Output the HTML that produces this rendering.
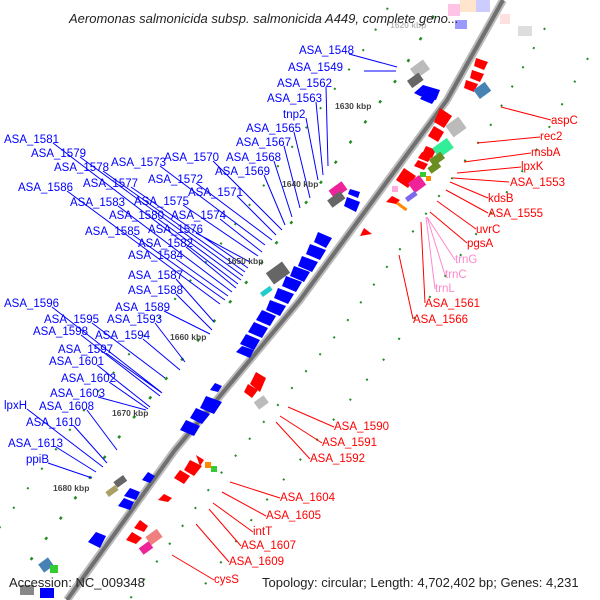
<!DOCTYPE html>
<html><head><meta charset="utf-8"><style>
html,body{margin:0;padding:0;background:#fff;width:600px;height:600px;overflow:hidden;}
svg{display:block;font-family:"Liberation Sans","DejaVu Sans",sans-serif;}
.b{fill:#0000ff;font-size:11.5px}
.r{fill:#ff0000;font-size:11.5px}
.p{fill:#ff88cc;font-size:11.5px}
.k{fill:#444;font-size:8.5px;font-weight:bold}
</style></head><body>
<svg width="600" height="600" viewBox="0 0 600 600" xmlns="http://www.w3.org/2000/svg">
<rect width="600" height="600" fill="#fff"/>
<g fill="none" stroke="#228b22" stroke-width="2.5">
<polyline points="503,0 447,100 300,300 175,450 67,600" transform="translate(-45,-28)" stroke-dasharray="3 22"/>
<polyline points="503,0 447,100 300,300 175,450 67,600" transform="translate(-80,-55)" stroke-dasharray="2 22" stroke-width="2"/>
<polyline points="503,0 447,100 300,300 175,450 67,600" transform="translate(42,28)" stroke-dasharray="2 20" stroke-width="2"/>
<polyline points="503,0 447,100 300,300 175,450 67,600" transform="translate(85,58)" stroke-dasharray="2 24" stroke-width="2"/>
</g>
<polyline points="503,0 447,100 300,300 175,450 67,600" fill="none" stroke="#bbb" stroke-width="8"/>
<polyline points="503,0 447,100 300,300 175,450 67,600" fill="none" stroke="#707070" stroke-width="4"/>
<g stroke="#0000ff" stroke-width="1" fill="none">
<path d="M349,54 L397,67 M364,71 L396,71 M326,87 L328,166 M316,102 L323,175 M306,118 L318,180 M294,132 L310,198 M284,146 L300,208 M274,161 L292,217 M264,175 L285,225"/>
<path d="M213,161 L282,230 M237,196 L276,235 M196,183 L272,240 M160,166 L265,245 M220,219 L262,252 M183,205 L258,256 M196,233 L250,262 M131,187 L248,268 M103,171 L245,272 M80,157 L243,276 M158,219 L241,280 M53,143 L238,284 M186,247 L236,288 M118,206 L232,292 M176,259 L228,296 M133,235 L225,300 M67,191 L220,304"/>
<path d="M176,279 L214,322 M176,294 L212,330 M164,311 L210,334 M155,323 L185,362 M143,339 L180,370 M92,323 L165,378 M52,307 L161,392 M106,353 L162,393 M81,335 L160,396 M97,365 L150,407 M109,382 L148,409 M98,397 L146,410 M87,410 L117,450 M27,409 L103,467 M74,426 L107,463 M56,447 L96,472 M48,463 L92,478"/>
</g>
<g stroke="#ff0000" stroke-width="1" fill="none">
<path d="M551,120 L501,107 M540,137 L477,143 M531,153 L464,162 M521,167 L457,173 M509,182 L453,178 M488,198 L450,182 M488,213 L446,190 M476,229 L437,201 M467,243 L430,212 M425,303 L421,222 M413,319 L399,255"/>
<path d="M334,427 L288,407 M322,443 L280,416 M310,459 L276,422 M280,498 L230,482 M266,516 L222,492 M253,532 L213,503 M241,546 L209,509 M229,562 L196,524 M214,580 L172,555"/>
</g>
<g stroke="#ff88cc" stroke-width="1" fill="none">
<path d="M455,260 L427,217 M445,275 L427,217 M435,289 L426,217"/>
</g>
<g fill="#0000ff">
<polygon points="423,85 440,90 436,100 420,96 414,93"/>
<polygon points="424,93 436,98 432,104 420,99"/>
<polygon points="347,197 360,202 356,212 344,206"/>
<polygon points="350,189 360,192 358,198 348,194"/>
<polygon points="318,232 332,238 326,248 314,242"/>
<polygon points="310,244 326,250 320,260 306,254"/>
<polygon points="302,256 318,262 312,272 298,266"/>
<polygon points="294,266 310,272 304,282 290,276"/>
<polygon points="286,276 302,282 296,292 282,286"/>
<polygon points="278,288 294,294 288,304 274,298"/>
<polygon points="270,300 286,306 280,316 266,310"/>
<polygon points="262,310 276,316 270,326 256,320"/>
<polygon points="254,322 268,328 262,338 248,332"/>
<polygon points="246,334 260,340 254,350 240,344"/>
<polygon points="242,346 254,350 250,358 236,352"/>
<polygon points="215,383 222,386 218,392 210,390"/>
<polygon points="206,396 222,402 214,414 200,408"/>
<polygon points="196,408 210,414 202,424 190,418"/>
<polygon points="186,420 200,426 194,436 180,430"/>
<polygon points="148,472 155,476 150,483 142,480"/>
<polygon points="130,488 140,492 136,500 124,496"/>
<polygon points="124,498 134,502 130,510 118,506"/>
<polygon points="96,532 106,536 100,548 88,542"/>
</g>
<rect x="412" y="63" width="16" height="12" fill="#bbb" transform="rotate(-36 420 69)"/>
<rect x="408" y="76" width="14" height="9" fill="#666" transform="rotate(-36 415 80)"/>
<rect x="330" y="185" width="16" height="10" fill="#ee2299" transform="rotate(-36 338 190)"/>
<rect x="328" y="195" width="16" height="9" fill="#666" transform="rotate(-36 336 199)"/>
<rect x="268" y="266" width="20" height="14" fill="#666" transform="rotate(-36 278 273)"/>
<rect x="260" y="289" width="12" height="5" fill="#22cccc" transform="rotate(-36 266 291)"/>
<rect x="114" y="478" width="12" height="7" fill="#666" transform="rotate(-36 120 481)"/>
<rect x="106" y="488" width="12" height="6" fill="#aaa066" transform="rotate(-36 112 491)"/>
<rect x="40" y="560" width="12" height="10" fill="#4682b4" transform="rotate(-36 46 565)"/>
<rect x="50" y="565" width="8" height="8" fill="#33cc33"/>
<rect x="20" y="585" width="14" height="10" fill="#888"/>
<rect x="40" y="588" width="14" height="10" fill="#0000ff"/>
<g fill="#ff0000">
<polygon points="476,58 488,62 484,70 474,66"/>
<polygon points="472,70 484,74 480,82 470,78"/>
<polygon points="466,80 478,84 474,92 464,88"/>
<polygon points="440,108 452,116 444,128 434,122"/>
<polygon points="434,126 444,132 438,142 428,136"/>
<polygon points="426,146 436,150 432,158 422,154"/>
<polygon points="422,152 432,156 428,162 418,158"/>
<polygon points="418,160 428,164 424,170 414,166"/>
<polygon points="404,168 416,176 408,188 396,180"/>
<polygon points="392,196 400,200 396,204 386,202"/>
<polygon points="364,228 372,234 360,236"/>
<polygon points="256,372 266,378 260,392 250,384"/>
<polygon points="248,384 258,390 252,398 244,392"/>
<polygon points="196,455 204,460 200,466"/>
<polygon points="190,460 202,466 194,476 184,470"/>
<polygon points="180,470 190,476 184,484 174,478"/>
<polygon points="164,494 172,498 168,502 158,500"/>
<polygon points="140,520 148,526 144,532 134,528"/>
<polygon points="132,532 142,538 136,544 126,540"/>
</g>
<rect x="475" y="85" width="14" height="11" fill="#4682b4" transform="rotate(-36 482 90)"/>
<rect x="448" y="120" width="16" height="14" fill="#bbb" transform="rotate(-36 456 127)"/>
<rect x="434" y="142" width="18" height="12" fill="#33ee99" transform="rotate(-36 443 148)"/>
<rect x="430" y="155" width="14" height="8" fill="#6b8e23" transform="rotate(-36 437 159)"/>
<rect x="428" y="164" width="12" height="7" fill="#6b8e23" transform="rotate(-36 434 167)"/>
<rect x="420" y="172" width="6" height="5" fill="#33cc33"/>
<rect x="426" y="176" width="5" height="5" fill="#ff8800"/>
<rect x="410" y="178" width="14" height="12" fill="#ee2299" transform="rotate(-36 417 184)"/>
<rect x="405" y="194" width="12" height="5" fill="#7b68ee" transform="rotate(-36 411 196)"/>
<rect x="396" y="205" width="12" height="3" fill="#ff8800" transform="rotate(36 402 206)"/>
<rect x="392" y="186" width="6" height="6" fill="#ffaadd"/>
<rect x="255" y="398" width="12" height="9" fill="#bbb" transform="rotate(-36 261 402)"/>
<rect x="205" y="462" width="6" height="6" fill="#ff8800"/>
<rect x="211" y="466" width="6" height="6" fill="#33cc33"/>
<rect x="147" y="532" width="14" height="10" fill="#f08080" transform="rotate(-36 154 537)"/>
<rect x="140" y="544" width="12" height="8" fill="#ee2299" transform="rotate(-36 146 548)"/>
<rect x="460" y="0" width="20" height="12" fill="#ffcc99" opacity="0.5"/>
<rect x="476" y="0" width="14" height="12" fill="#ccccff"/>
<rect x="448" y="4" width="12" height="12" fill="#ff88cc" opacity="0.5"/>
<rect x="455" y="20" width="12" height="9" fill="#0000ff" opacity="0.4"/>
<rect x="518" y="26" width="14" height="10" fill="#ddd"/>
<rect x="500" y="14" width="10" height="10" fill="#ffcccc" opacity="0.6"/>
<text class="k" x="390" y="28" style="fill:#bbb">1620 kbp</text>
<text class="k" x="335" y="109">1630 kbp</text>
<text class="k" x="282" y="187">1640 kbp</text>
<text class="k" x="227" y="264">1650 kbp</text>
<text class="k" x="170" y="340">1660 kbp</text>
<text class="k" x="112" y="416">1670 kbp</text>
<text class="k" x="53" y="491">1680 kbp</text>
<text class="b" x="299" y="54">ASA_1548</text>
<text class="b" x="288" y="71">ASA_1549</text>
<text class="b" x="277" y="87">ASA_1562</text>
<text class="b" x="267" y="102">ASA_1563</text>
<text class="b" x="283" y="118">tnp2</text>
<text class="b" x="246" y="132">ASA_1565</text>
<text class="b" x="236" y="146">ASA_1567</text>
<text class="b" x="226" y="161">ASA_1568</text>
<text class="b" x="215" y="175">ASA_1569</text>
<text class="b" x="164" y="161">ASA_1570</text>
<text class="b" x="188" y="196">ASA_1571</text>
<text class="b" x="148" y="183">ASA_1572</text>
<text class="b" x="111" y="166">ASA_1573</text>
<text class="b" x="171" y="219">ASA_1574</text>
<text class="b" x="134" y="205">ASA_1575</text>
<text class="b" x="148" y="233">ASA_1576</text>
<text class="b" x="83" y="187">ASA_1577</text>
<text class="b" x="54" y="171">ASA_1578</text>
<text class="b" x="31" y="157">ASA_1579</text>
<text class="b" x="109" y="219">ASA_1580</text>
<text class="b" x="4" y="143">ASA_1581</text>
<text class="b" x="138" y="247">ASA_1582</text>
<text class="b" x="70" y="206">ASA_1583</text>
<text class="b" x="128" y="259">ASA_1584</text>
<text class="b" x="85" y="235">ASA_1585</text>
<text class="b" x="18" y="191">ASA_1586</text>
<text class="b" x="128" y="279">ASA_1587</text>
<text class="b" x="128" y="294">ASA_1588</text>
<text class="b" x="115" y="311">ASA_1589</text>
<text class="b" x="107" y="323">ASA_1593</text>
<text class="b" x="95" y="339">ASA_1594</text>
<text class="b" x="44" y="323">ASA_1595</text>
<text class="b" x="4" y="307">ASA_1596</text>
<text class="b" x="58" y="353">ASA_1597</text>
<text class="b" x="33" y="335">ASA_1598</text>
<text class="b" x="49" y="365">ASA_1601</text>
<text class="b" x="61" y="382">ASA_1602</text>
<text class="b" x="50" y="397">ASA_1603</text>
<text class="b" x="39" y="410">ASA_1608</text>
<text class="b" x="4" y="409">lpxH</text>
<text class="b" x="26" y="426">ASA_1610</text>
<text class="b" x="8" y="447">ASA_1613</text>
<text class="b" x="26" y="463">ppiB</text>
<text class="r" x="551" y="124">aspC</text>
<text class="r" x="540" y="140">rec2</text>
<text class="r" x="531" y="156">msbA</text>
<text class="r" x="521" y="170">lpxK</text>
<text class="r" x="510" y="186">ASA_1553</text>
<text class="r" x="488" y="202">kdsB</text>
<text class="r" x="488" y="217">ASA_1555</text>
<text class="r" x="476" y="233">uvrC</text>
<text class="r" x="467" y="247">pgsA</text>
<text class="p" x="455" y="263">trnG</text>
<text class="p" x="445" y="278">trnC</text>
<text class="p" x="435" y="292">trnL</text>
<text class="r" x="425" y="307">ASA_1561</text>
<text class="r" x="413" y="323">ASA_1566</text>
<text class="r" x="334" y="430">ASA_1590</text>
<text class="r" x="322" y="446">ASA_1591</text>
<text class="r" x="310" y="462">ASA_1592</text>
<text class="r" x="280" y="501">ASA_1604</text>
<text class="r" x="266" y="519">ASA_1605</text>
<text class="r" x="253" y="535">intT</text>
<text class="r" x="241" y="549">ASA_1607</text>
<text class="r" x="229" y="565">ASA_1609</text>
<text class="r" x="214" y="583">cysS</text>
<text x="69" y="23" font-size="13" font-style="italic" fill="#222">Aeromonas salmonicida subsp. salmonicida A449, complete geno...</text>
<text x="9" y="587" font-size="13" fill="#222">Accession: NC_009348</text>
<text x="262" y="587" font-size="13" fill="#222">Topology: circular; Length: 4,702,402 bp; Genes: 4,231</text>
</svg>
</body></html>
